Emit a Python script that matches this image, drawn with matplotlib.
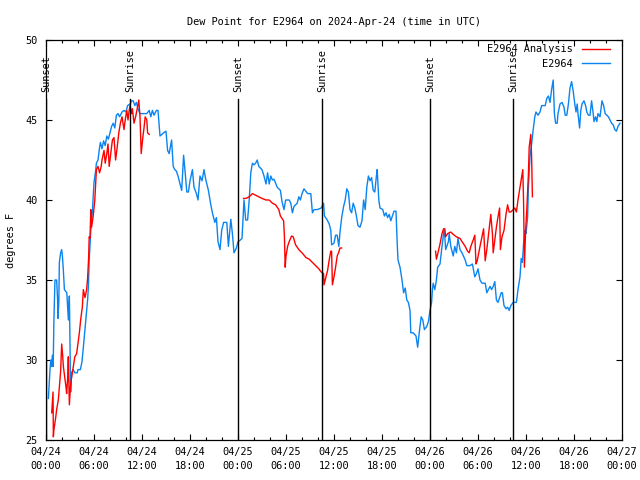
import numpy as np
import matplotlib
matplotlib.use("Agg")
import matplotlib.pyplot as plt
from matplotlib.ticker import MultipleLocator

# ---- data (hours since 2024-04-24 00:00 UTC, dew point deg F) ----
obs_hours = [0.3,0.5,0.6,0.7,0.8,0.9,0.98,1.12,1.33,1.45,1.5,1.6,1.67,1.83,1.96,2.05,2.17,2.3,2.6,2.7,2.8,2.92,3.0,3.08,3.2,3.4,3.6,3.9,4.0,4.3,4.5,4.67,4.9,5.0,5.2,5.3,5.4,5.6,5.8,6.0,6.2,6.3,6.5,6.7,6.8,7.0,7.2,7.4,7.6,7.8,8.0,8.2,8.4,8.6,8.8,9.0,9.2,9.5,9.75,10.0,10.2,10.5,10.7,10.9,11.1,11.3,11.5,11.75,12.0,12.3,12.6,12.9,13.1,13.3,13.5,13.8,14.0,14.25,14.5,14.7,15.0,15.2,15.4,15.7,15.9,16.1,16.3,16.5,16.75,16.96,17.2,17.4,17.6,17.8,18.0,18.3,18.5,18.8,19.0,19.25,19.5,19.75,19.96,20.3,20.6,20.8,21.1,21.3,21.5,21.75,21.96,22.2,22.6,22.8,23.1,23.3,23.5,23.8,24.0,24.3,24.5,24.75,24.96,25.2,25.4,25.6,25.8,26.0,26.2,26.4,26.6,27.0,27.25,27.5,27.7,27.9,28.1,28.3,28.5,28.9,29.3,29.5,29.75,29.96,30.4,30.6,30.8,31.0,31.4,31.6,31.8,32.0,32.25,32.7,33.1,33.3,33.5,33.9,34.4,34.7,34.8,35.1,35.4,35.6,35.7,36.0,36.2,36.4,36.6,36.75,36.96,37.2,37.4,37.6,37.8,38.0,38.2,38.4,38.6,38.8,39.0,39.25,39.5,39.7,39.9,40.1,40.3,40.5,40.7,40.9,41.1,41.3,41.4,41.6,41.75,42.1,42.3,42.5,42.7,42.9,43.1,43.3,43.5,43.75,43.9,44.0,44.25,44.5,44.7,44.9,45.1,45.3,45.5,45.6,45.9,46.25,46.46,46.7,46.9,47.1,47.3,47.6,47.8,48.0,48.2,48.3,48.4,48.6,48.8,48.96,49.25,49.5,49.7,49.8,49.96,50.1,50.3,50.4,50.6,50.9,51.1,51.3,51.5,51.75,52.0,52.4,52.6,53.0,53.3,53.6,53.8,54.0,54.25,54.5,54.9,55.1,55.3,55.5,55.7,55.9,56.1,56.3,56.5,56.9,57.05,57.25,57.5,57.7,57.9,58.1,58.4,58.8,59.0,59.25,59.4,59.55,59.7,59.9,60.0,60.2,60.3,60.5,60.7,60.9,61.1,61.25,61.5,61.75,61.96,62.4,62.6,62.8,63.0,63.2,63.4,63.55,63.7,63.9,64.0,64.25,64.5,64.75,64.9,65.1,65.3,65.5,65.7,65.9,66.1,66.25,66.4,66.5,66.7,66.85,67.0,67.25,67.45,67.6,67.8,68.0,68.2,68.4,68.5,68.7,68.85,69.0,69.25,69.5,69.7,69.9,70.1,70.3,70.5,70.7,70.9,71.1,71.3,71.5,71.75]
obs_dewpt = [27.6,29.4,30.0,29.6,30.3,29.6,32.3,35.0,35.0,33.75,32.6,33.6,36.1,36.7,36.9,36.5,35.6,34.4,34.2,33.4,32.5,34.0,31.1,28.0,29.2,29.4,29.2,29.2,29.4,29.4,29.9,30.8,32.1,32.6,33.75,34.6,36.25,38.1,39.3,41.1,41.8,42.3,42.5,43.3,43.6,43.2,43.7,43.4,44.0,43.8,44.2,44.6,44.8,44.5,45.3,45.4,45.2,45.5,45.6,45.5,45.9,46.0,46.2,46.2,45.9,46.1,45.7,45.4,45.4,45.4,45.4,45.6,45.2,45.6,45.3,45.6,45.6,44.0,44.1,44.2,44.3,43.1,42.9,43.75,42.1,41.9,41.8,41.5,41.0,40.6,42.8,41.7,40.5,40.5,41.2,41.9,40.8,40.4,40.0,41.5,41.2,41.9,41.3,40.6,39.7,39.2,38.6,38.9,37.4,36.9,38.1,38.6,38.6,37.1,38.8,37.9,36.7,37.0,37.4,37.5,37.6,40.0,38.75,38.75,40.0,41.7,42.3,42.2,42.3,42.5,42.1,41.9,41.5,41.0,41.7,41.0,41.5,41.25,41.3,40.8,40.6,39.9,39.4,40.0,40.0,39.8,39.2,39.6,39.8,40.2,40.0,40.4,40.7,40.4,40.4,39.2,39.4,39.4,39.5,39.8,39.0,38.8,38.5,38.1,37.2,37.3,37.8,37.8,37.1,38.0,38.9,39.6,40.0,40.7,40.5,39.4,39.2,39.8,39.5,39.0,38.4,38.3,38.7,40.0,39.4,40.8,41.5,41.2,41.4,40.6,40.5,41.5,41.9,40.0,39.5,39.4,39.0,39.2,38.9,39.1,38.7,39.0,39.3,39.3,37.3,36.25,35.8,35.0,34.2,34.5,33.75,33.6,33.1,31.7,31.7,31.5,30.8,31.9,32.7,32.5,31.9,32.1,32.4,33.1,33.6,34.4,34.8,34.4,35.0,35.8,36.0,37.1,37.9,38.1,36.9,37.1,37.4,37.9,37.1,36.5,37.1,36.7,37.6,36.9,36.7,36.25,35.9,35.9,36.0,35.2,35.4,35.7,35.0,34.8,34.8,34.2,34.4,34.6,34.4,34.6,34.9,33.75,33.6,34.2,34.2,33.4,33.2,33.3,33.1,33.4,33.6,33.6,34.4,35.2,36.35,36.1,37.3,38.1,37.9,38.9,40.8,42.7,43.5,44.4,45.2,45.5,45.3,45.5,45.9,45.9,46.35,46.5,46.1,46.9,47.5,45.4,44.8,44.8,45.4,46.0,46.1,45.8,45.3,45.3,46.0,47.0,47.4,46.8,46.0,45.5,46.0,45.4,44.5,45.6,46.0,46.2,45.9,45.5,45.3,45.3,46.2,45.4,44.9,45.2,44.9,45.4,45.2,46.2,45.9,45.4,45.3,45.2,45.0,44.8,44.7,44.4,44.3,44.6,44.8]

ana1_hours = [0.71,0.8,0.88,0.92,0.98,1.21,1.33,1.54,1.67,1.83,1.96,2.08,2.17,2.375,2.5,2.58,2.71,2.79,2.92,3.08,3.2,3.4,3.6,3.83,3.96,4.17,4.33,4.54,4.67,4.875,5.08,5.2,5.33,5.4,5.5,5.6,5.7,5.9,6.1,6.2,6.3,6.5,6.7,6.9,7.0,7.25,7.4,7.6,7.75,7.9,8.1,8.3,8.5,8.7,8.9,9.1,9.3,9.5,9.75,9.9,10.1,10.25,10.4,10.5,10.7,10.8,11.0,11.2,11.4,11.6,11.75,11.9,12.1,12.25,12.4,12.6,12.7,12.9]
ana1_dewpt = [26.7,27.4,28.0,25.2,25.6,26.4,26.9,27.5,28.3,29.3,31.0,30.3,29.6,28.8,28.3,27.9,28.9,30.2,27.2,28.5,28.9,29.6,30.2,30.4,30.9,31.7,32.5,33.3,34.4,33.9,34.4,35.1,36.4,37.7,37.6,39.4,38.3,39.0,40.0,41.0,41.9,42.1,41.7,42.1,42.5,43.1,42.3,42.9,43.5,42.1,42.9,43.75,43.9,42.5,43.3,44.2,44.8,45.2,44.4,45.0,45.6,45.0,45.6,45.9,45.4,45.7,44.8,45.2,45.7,46.25,45.2,42.9,43.9,44.5,45.2,45.0,44.2,44.1]

ana2_hours = [24.7,25.0,25.4,25.8,26.2,26.6,27.0,27.5,27.9,28.3,28.7,29.1,29.3,29.7,29.8,29.9,30.0,30.2,30.4,30.7,30.9,31.2,31.6,32.0,32.5,32.9,33.3,33.7,34.1,34.4,34.7,34.75,35.0,35.2,35.4,35.6,35.7,35.8,36.0,36.2,36.4,36.6,36.75,36.95]
ana2_dewpt = [40.1,40.1,40.2,40.4,40.3,40.2,40.1,40.0,40.0,39.8,39.7,39.4,39.0,38.7,37.75,35.8,36.5,37.1,37.4,37.75,37.7,37.2,36.9,36.7,36.4,36.3,36.1,35.9,35.7,35.5,35.4,34.7,35.2,35.6,36.25,36.8,36.8,34.7,35.2,35.8,36.5,36.75,37.0,37.0]

ana3_hours = [48.7,48.8,49.0,49.25,49.5,49.7,49.85,49.95,50.2,50.6,50.9,51.3,51.75,52.0,52.4,52.7,52.9,53.1,53.4,53.6,53.75,53.9,54.25,54.5,54.7,54.9,55.1,55.3,55.5,55.6,55.8,55.9,56.1,56.3,56.5,56.7,56.8,57.0,57.25,57.5,57.7,57.9,58.1,58.4,58.6,58.8,59.0,59.25,59.5,59.6,59.7,59.8,59.95,60.1,60.3,60.4,60.6,60.7,60.8]
ana3_dewpt = [36.8,36.3,36.7,37.25,37.9,38.2,38.2,37.7,37.9,38.0,37.85,37.7,37.6,37.4,37.1,36.8,36.7,37.1,37.5,37.8,36.0,36.2,37.1,37.7,38.2,36.2,36.9,37.8,38.75,39.1,37.9,36.7,37.5,38.3,38.95,39.5,36.9,37.7,38.1,39.1,39.7,39.25,39.25,39.4,39.5,39.25,40.0,40.8,41.6,41.9,39.8,35.8,38.1,39.4,41.6,43.3,44.1,42.7,40.2]

sunset_hours = [0.0, 24.0, 48.0]
sunrise_hours = [10.54, 34.54, 58.42]

tick_hours = [0, 6, 12, 18, 24, 30, 36, 42, 48, 54, 60, 66, 72]
tick_labels = ["04/24\n00:00", "04/24\n06:00", "04/24\n12:00", "04/24\n18:00",
               "04/25\n00:00", "04/25\n06:00", "04/25\n12:00", "04/25\n18:00",
               "04/26\n00:00", "04/26\n06:00", "04/26\n12:00", "04/26\n18:00",
               "04/27\n00:00"]

# ---- plotting ----
FS = 7.4
plt.rcParams['font.family'] = ['DejaVu Sans Mono']
plt.rcParams['font.size'] = FS

fig = plt.figure(figsize=(6.4, 4.8), dpi=100)
ax = fig.add_axes([46/640, 40/480, 576/640, 400/480])

RED = '#ff0000'
BLUE = '#0a84f0'

ana_h = ana1_hours + [np.nan] + ana2_hours + [np.nan] + ana3_hours
ana_v = ana1_dewpt + [np.nan] + ana2_dewpt + [np.nan] + ana3_dewpt

ax.plot(ana_h, ana_v, color=RED, lw=1.0, label='E2964 Analysis', zorder=3)
ax.plot(obs_hours, obs_dewpt, color=BLUE, lw=1.0, label='E2964', zorder=2)

line_top = 46.3
label_base = 46.75
for h in sunset_hours:
    ax.plot([h, h], [25, line_top], color='black', lw=1.0, zorder=4)
    ax.text(h, label_base, 'Sunset', rotation=90, ha='center', va='bottom', fontsize=FS)
for h in sunrise_hours:
    ax.plot([h, h], [25, line_top], color='black', lw=1.0, zorder=4)
    ax.text(h, label_base, 'Sunrise', rotation=90, ha='center', va='bottom', fontsize=FS)

ax.set_xlim(0, 72)
ax.set_ylim(25, 50)
ax.set_xticks(tick_hours)
ax.set_xticklabels(tick_labels, linespacing=1.5)
ax.xaxis.set_minor_locator(MultipleLocator(2))
ax.set_yticks([25, 30, 35, 40, 45, 50])
ax.tick_params(axis='both', which='both', direction='in', top=True, right=True)
ax.tick_params(axis='both', which='major', length=4.5, width=0.8, pad=5)
ax.tick_params(axis='y', which='major', pad=6)
ax.tick_params(axis='x', which='minor', length=2.5, width=0.8)
for s in ax.spines.values():
    s.set_linewidth(0.9)

ax.set_ylabel('degrees F', labelpad=7)
ax.set_title('Dew Point for E2964 on 2024-Apr-24 (time in UTC)', fontsize=FS, pad=11)

leg = ax.legend(loc='upper right', frameon=False, fontsize=FS, handlelength=2.8,
                markerfirst=False, borderaxespad=0.0, labelspacing=0.45,
                handletextpad=0.9, bbox_to_anchor=(0.987, 1.0))
for t in leg.get_texts():
    t.set_ha('right')

fig.savefig('out.png', dpi=100)
